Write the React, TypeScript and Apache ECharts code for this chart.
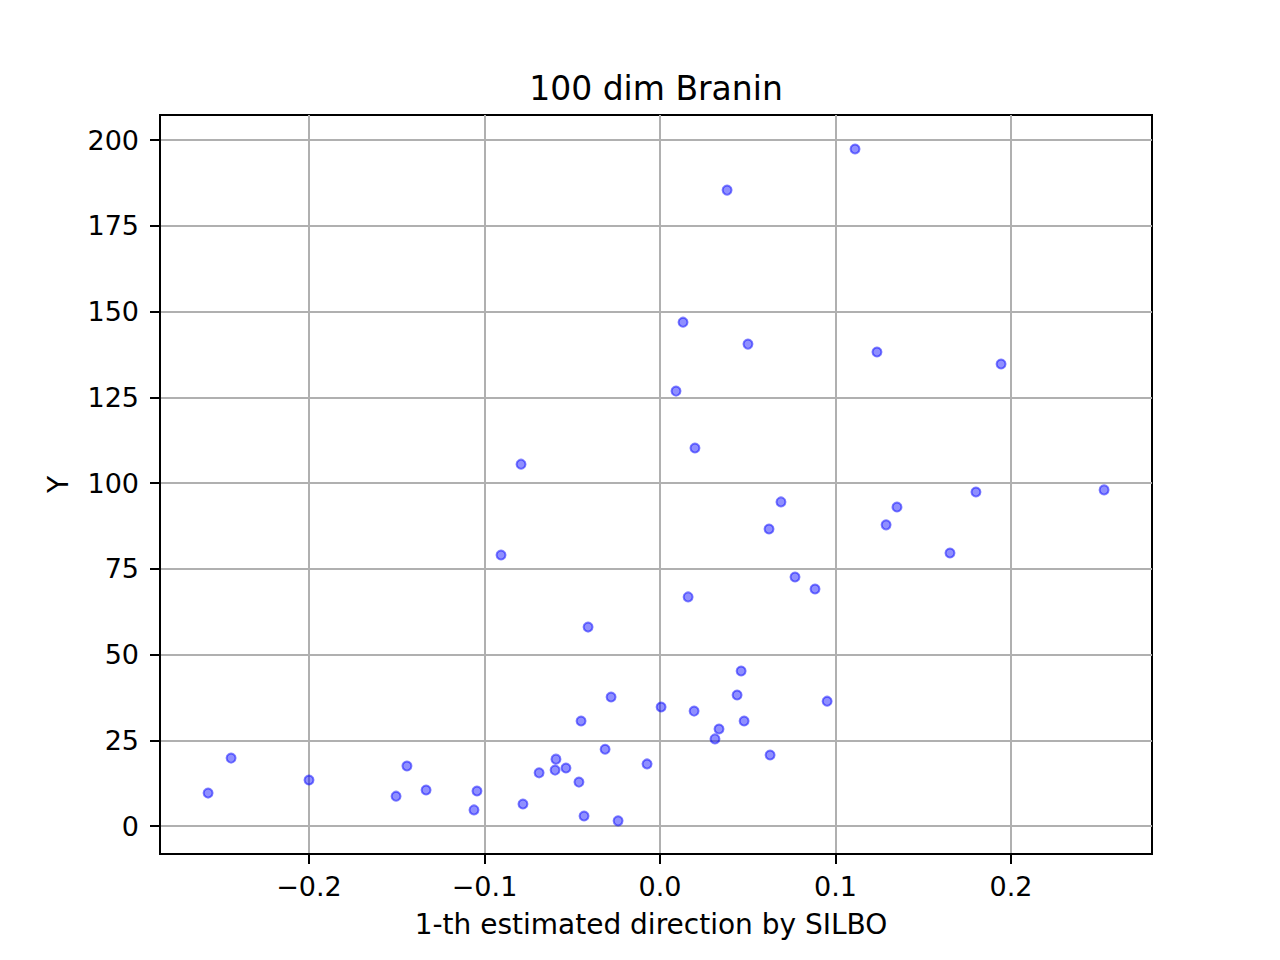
import React, { useEffect, useRef } from "react";
import * as echarts from "echarts";

const xValues = [
  -0.2575, -0.2444, -0.2, -0.1504, -0.1442, -0.1333, -0.106, -0.1043, -0.0906, -0.0792,
  -0.0781, -0.0689, -0.0598, -0.0593, -0.0536, -0.0462, -0.045, -0.0433, -0.041, -0.0313,
  -0.0279, -0.0239, -0.0074, 0.0006, 0.0091, 0.0131, 0.016, 0.0194, 0.0199, 0.0313,
  0.0336, 0.0382, 0.0439, 0.0462, 0.0479, 0.0501, 0.0621, 0.0627, 0.0689, 0.0769,
  0.0883, 0.0952, 0.1111, 0.1236, 0.1288, 0.135, 0.1652, 0.18, 0.1943, 0.253,
];
const yValues = [
  9.6, 19.8, 13.4, 8.7, 17.5, 10.5, 4.7, 10.2, 79.0, 105.5,
  6.4, 15.5, 16.3, 19.5, 16.9, 12.8, 30.6, 2.9, 58.0, 22.4,
  37.6, 1.5, 18.1, 34.7, 126.8, 146.9, 66.8, 33.5, 110.2, 25.4,
  28.3, 185.4, 38.2, 45.2, 30.6, 140.5, 86.6, 20.7, 94.5, 72.6,
  69.1, 36.4, 197.4, 138.2, 87.8, 93.0, 79.6, 97.4, 134.7, 98.0,
];
const xTicks = [-0.2, -0.1, 0.0, 0.1, 0.2];
const yTicks = [0, 25, 50, 75, 100, 125, 150, 175, 200];
const xRange = [-0.2849, 0.2803];
const yRange = [-8.16, 207.3];

const titleText = "100 dim Branin";
const xName = "1-th estimated direction by SILBO";
const yName = "Y";

const FONT = "DejaVu Sans";

export default function App() {
  const ref = useRef<HTMLDivElement>(null);
  useEffect(() => {
    document.body.style.margin = "0";
    const chart = echarts.init(ref.current!, null, { renderer: "svg" });
    const data = xValues.map((x, i) => [x, yValues[i]]);
    chart.setOption({
      animation: false,
      backgroundColor: "#ffffff",
      title: {
        text: titleText,
        left: 651,
        top: 67,
        textAlign: "center",
        textStyle: { fontFamily: FONT, fontSize: 33, fontWeight: "normal", color: "#000" },
      },
      grid: {
        left: 160,
        top: 115,
        width: 992,
        height: 739,
        show: true,
        borderColor: "#000",
        borderWidth: 2,
        backgroundColor: "transparent",
        containLabel: false,
      },
      xAxis: {
        type: "value",
        min: xRange[0],
        max: xRange[1],
        name: xName,
        nameLocation: "middle",
        nameGap: 56,
        nameTextStyle: { fontFamily: FONT, fontSize: 28, color: "#000", padding: [0, 10, 0, 0] },
        axisLine: { show: true, onZero: false, lineStyle: { color: "#000", width: 2 } },
        axisTick: { show: true, length: 10, lineStyle: { color: "#000", width: 2 }, customValues: xTicks },
        axisLabel: {
          customValues: xTicks,
          margin: 19,
          fontFamily: FONT,
          fontSize: 27,
          color: "#000",
          formatter: (v: number) => v.toFixed(1).replace("-", "\u2212"),
        },
        splitLine: { show: true, lineStyle: { color: "#b0b0b0", width: 2 } },
      },
      yAxis: {
        type: "value",
        min: yRange[0],
        max: yRange[1],
        name: yName,
        nameLocation: "middle",
        nameGap: 88,
        nameRotate: 90,
        nameTextStyle: { fontFamily: FONT, fontSize: 28, color: "#000" },
        axisLine: { show: true, onZero: false, lineStyle: { color: "#000", width: 2 } },
        axisTick: { show: true, length: 10, lineStyle: { color: "#000", width: 2 }, customValues: yTicks },
        axisLabel: {
          customValues: yTicks,
          margin: 21,
          fontFamily: FONT,
          fontSize: 27,
          color: "#000",
          formatter: (v: number) => String(Math.round(v)),
        },
        splitLine: { show: true, lineStyle: { color: "#b0b0b0", width: 2 } },
      },
      series: [
        {
          type: "scatter",
          data,
          symbol: "circle",
          symbolSize: 9,
          itemStyle: {
            color: "rgba(0,0,255,0.55)",
            borderColor: "rgba(0,0,255,0.6)",
            borderWidth: 2,
          },
        },
      ],
    });
    return () => chart.dispose();
  }, []);
  return <div ref={ref} style={{ width: 1280, height: 960 }} />;
}
